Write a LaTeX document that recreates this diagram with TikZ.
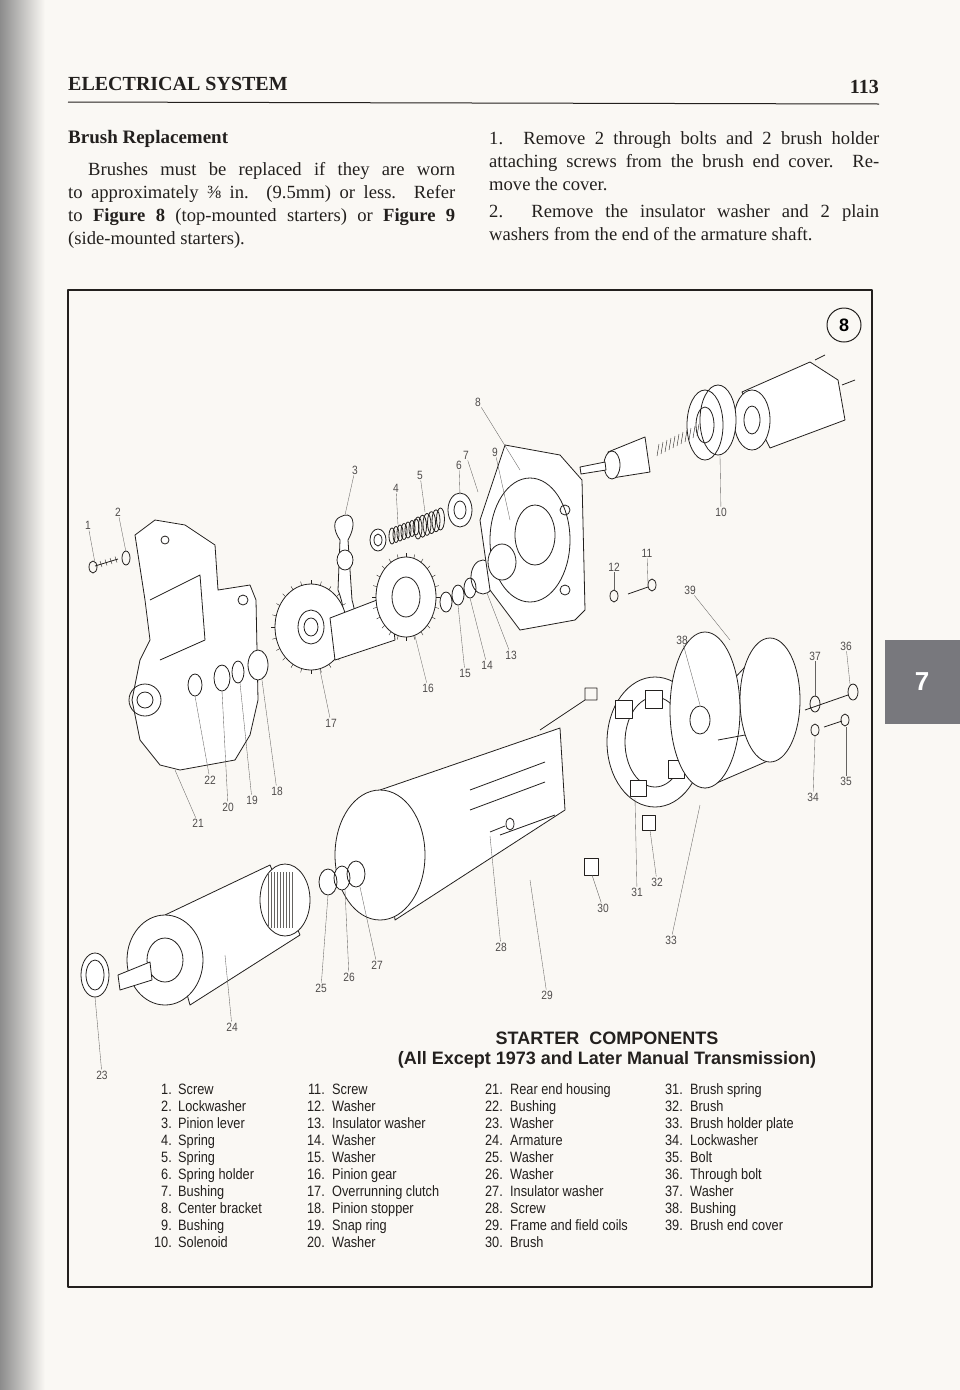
\documentclass[tikz,border=0pt]{standalone}
\usepackage{fontspec}
\setmainfont{Liberation Serif}
\setsansfont{Liberation Sans}[FakeStretch=0.85]
\newfontfamily\capfont{Liberation Sans}
\usetikzlibrary{positioning}
\definecolor{paper}{RGB}{250,248,244}
\definecolor{ink}{RGB}{35,32,30}
\definecolor{tabgray}{RGB}{120,120,125}
\tikzset{partline/.style={draw=ink, line width=0.8pt},
callout/.style={font=\sffamily\fontsize{12}{12}\selectfont, text=ink!80, inner sep=1pt},
leader/.style={draw=ink!70, line width=0.35pt},
legendtext/.style={font=\sffamily\fontsize{15}{15}\selectfont, text=ink, anchor=base west, inner sep=0pt}}

\begin{document}
\begin{tikzpicture}[x=1pt, y=-1pt, line join=round]
    \useasboundingbox (0,0) rectangle (960,1390);
    \fill[paper] (0,0) rectangle (960,1390);
    \shade[left color=black!45, right color=paper] (0,0) rectangle (45,1390);
    \fill[tabgray] (885,640) rectangle (960,724);
    \node[text=white, font=\capfont\bfseries\fontsize{26}{26}\selectfont] (tab) at (922,682) {7};

    % Header
    \node[anchor=base west, font=\bfseries\fontsize{20}{20}\selectfont, text=ink, inner sep=0pt] (head) at (68,90) {ELECTRICAL SYSTEM};
    \node[anchor=base east, font=\bfseries\fontsize{20}{20}\selectfont, text=ink, inner sep=0pt] (page) at (879,93) {113};
    \draw[ink, line width=1pt] (68,102) -- (879,104);

    % Text columns
    \node[anchor=base west, font=\bfseries\fontsize{19}{19}\selectfont, text=ink, inner sep=0pt] (brush) at (68,143) {Brush Replacement};
    \node[anchor=north west, text width=387pt, align=justify, inner sep=0pt, text=ink,
          font=\fontsize{18.6}{23}\selectfont] (lefttext) at (68,162)
          {\hspace*{20pt}Brushes must be replaced if they are worn\linebreak to approximately ⅜ in. (9.5mm) or less. Refer\linebreak to \textbf{Figure 8} (top-mounted starters) or \textbf{Figure 9}\linebreak (side-mounted starters).};
    \node[anchor=north west, text width=390pt, align=justify, inner sep=0pt, text=ink,
          font=\fontsize{18.6}{23}\selectfont] (righttext) at (489,131)
          {1. Remove 2 through bolts and 2 brush holder\linebreak attaching screws from the brush end cover. Re-\linebreak move the cover.\par\vspace{4pt}
           2. Remove the insulator washer and 2 plain\linebreak washers from the end of the armature shaft.};

    % Figure frame
    \draw[ink, line width=1.2pt] (68,290) rectangle (872,1287);
    \node[circle, draw=ink, line width=1pt, minimum size=34pt, inner sep=0pt,
          font=\capfont\bfseries\fontsize{18}{18}\selectfont] (fignum) at (844,325) {8};

    % Rear end housing
    \draw[partline, fill=white] (135,535) -- (155,520) -- (185,525) -- (215,545) -- (218,590) -- (250,585) -- (256,600)
        -- (258,700) -- (250,735) -- (235,760) -- (180,770) -- (160,765) -- (140,740) -- (132,700) -- (140,660) -- (150,640) -- (145,600) -- cycle;
    \draw[partline] (145,700) circle (16pt) (145,700) circle (8pt) (165,540) circle (4pt) (243,600) circle (5pt)
        (150,600) -- (200,575) -- (205,640) -- (160,660);
    \draw[partline] (95,566) -- (118,559) (93,567) ellipse (4pt and 6pt) (126,558) ellipse (4pt and 7pt);
    \foreach \i in {0,...,3} {\draw[ink] (100+5*\i,561-1.5*\i) -- (102+5*\i,567-1.5*\i);}
    \draw[partline, fill=white] (195,685) ellipse (7pt and 11pt) (222,678) ellipse (8pt and 13pt)
        (238,672) ellipse (6pt and 11pt) (258,665) ellipse (10pt and 15pt);

    % Pinion lever, gears
    \draw[partline, fill=white] (340,517) .. controls (352,510) and (358,522) .. (348,540) -- (352,600)
        .. controls (358,620) and (356,640) .. (345,645) -- (340,640) .. controls (346,620) and (344,605) .. (338,590) -- (340,540) .. controls (333,530) and (333,520) .. cycle;
    \draw[partline, fill=white] (345,560) ellipse (8pt and 10pt);
    \draw[partline, fill=white] (311,627) ellipse (36pt and 43pt);
    \foreach \a in {0,15,...,345} {\draw[ink] (311,627) ++(\a:36pt and 43pt) -- ++(\a:4pt);}
    \draw[partline] (311,627) ellipse (13pt and 17pt) (311,627) ellipse (7pt and 9pt);
    \draw[partline, fill=white] (330,618) -- (390,595) -- (395,640) -- (335,660) -- cycle;
    \draw[partline, fill=white] (406,597) ellipse (30pt and 40pt);
    \foreach \a in {0,15,...,345} {\draw[ink] (406,597) ++(\a:30pt and 40pt) -- ++(\a:4pt);}
    \draw[partline] (406,597) ellipse (14pt and 20pt);
    \draw[partline, fill=white] (378,540) ellipse (8pt and 11pt) (378,540) ellipse (4pt and 6pt);
    \foreach \i in {0,...,6} {\draw[partline] (392+4*\i,536-1.5*\i) ellipse (3pt and 8pt);}
    \foreach \i in {0,...,5} {\draw[partline] (418+4.5*\i,528-1.8*\i) ellipse (4pt and 11pt);}
    \draw[partline, fill=white] (460,510) ellipse (12pt and 17pt) (460,510) ellipse (6pt and 9pt);
    \draw[partline, fill=white] (483,577) ellipse (12pt and 17pt) (470,588) ellipse (6pt and 10pt)
        (458,595) ellipse (6pt and 10pt) (446,602) ellipse (6pt and 10pt);

    % Center bracket
    \draw[partline, fill=white] (505,445) -- (560,455) -- (582,480) -- (585,610) -- (575,620) -- (520,630) -- (490,590) -- (480,520) -- cycle;
    \draw[partline] (530,540) ellipse (40pt and 62pt) (535,535) ellipse (20pt and 30pt) (565,510) circle (5pt) (565,590) circle (5pt);
    \draw[partline, fill=white] (502,562) ellipse (14pt and 18pt);

    % Solenoid
    \draw[partline, fill=white] (742,392) -- (810,362) -- (838,380) -- (845,420) -- (770,448) -- cycle;
    \draw[partline, fill=white] (752,420) ellipse (18pt and 30pt) (752,420) ellipse (8pt and 14pt);
    \draw[partline] (815,360) -- (825,355) (842,385) -- (855,380);
    \draw[partline, fill=white] (718,420) ellipse (18pt and 35pt) (705,425) ellipse (18pt and 35pt) (705,425) ellipse (9pt and 18pt);
    \foreach \i in {0,...,10} {\draw[ink] (657+4*\i,456-2*\i) -- (659+4*\i,444-2*\i);}
    \draw[partline, fill=white] (608,452) -- (645,437) -- (650,472) -- (612,478) -- cycle;
    \draw[partline, fill=white] (612,465) ellipse (8pt and 14pt);
    \draw[partline, fill=white] (580,467) -- (605,462) -- (606,470) -- (581,474) -- cycle;

    % Screw and washer 11, 12
    \draw[partline] (628,594) -- (648,587) (652,585) ellipse (4pt and 6pt) (614,596) ellipse (4pt and 6pt);

    % Frame and field coils
    \draw[partline, fill=white] (380,790) -- (560,728) -- (565,810) -- (395,920) -- cycle;
    \draw[partline, fill=white] (380,855) ellipse (45pt and 65pt);
    \draw[partline] (470,790) -- (545,762) (470,810) -- (545,782) (500,835) -- (555,815);
    \draw[partline] (490,832) -- (505,826) (510,824) ellipse (4pt and 6pt);
    \draw[partline] (540,730) -- (585,700) (585,700) rectangle (597,688);
    \draw[partline, fill=white] (584,858) rectangle (598,875);

    % Armature and washers
    \draw[partline, fill=white] (165,915) -- (270,865) -- (300,935) -- (190,1005) -- cycle;
    \draw[partline, fill=white] (285,900) ellipse (25pt and 36pt);
    \foreach \i in {0,...,8} {\draw[ink!70] (268+3*\i,872) -- (268+3*\i,928);}
    \draw[partline, fill=white] (165,960) ellipse (38pt and 45pt) (165,960) ellipse (18pt and 22pt);
    \draw[partline, fill=white] (118,975) -- (150,962) -- (152,980) -- (120,990) -- cycle;
    \draw[partline, fill=white] (95,975) ellipse (14pt and 22pt) (95,975) ellipse (9pt and 15pt);
    \draw[partline, fill=white] (328,882) ellipse (9pt and 13pt) (342,878) ellipse (8pt and 12pt) (356,874) ellipse (9pt and 13pt);

    % Brush holder plate, cover, bolts
    \draw[partline, fill=white] (655,742) ellipse (48pt and 65pt) (655,742) ellipse (30pt and 45pt);
    \draw[partline, fill=white] (615,700) rectangle (632,718) (645,690) rectangle (662,708)
        (668,760) rectangle (684,778) (630,780) rectangle (646,796) (642,815) rectangle (655,830);
    \draw[partline, fill=white] (705,710) -- (770,640) -- (770,760) -- (705,788) -- cycle;
    \draw[partline, fill=white] (770,700) ellipse (30pt and 62pt);
    \draw[partline, fill=white] (705,710) ellipse (35pt and 78pt);
    \draw[partline] (718,740) -- (745,735) (700,720) ellipse (10pt and 14pt);
    \draw[partline] (805,710) -- (848,695) (853,692) ellipse (5pt and 8pt) (815,704) ellipse (5pt and 8pt);
    \draw[partline] (815,730) ellipse (4pt and 6pt) (824,727) -- (842,721) (845,720) ellipse (4pt and 6pt);

    % Callouts
    \foreach \n/\lx/\ly/\tx/\ty in {1/88/525/95/563, 2/118/512/126/552, 3/355/470/345/515, 4/396/488/398/525,
        5/420/475/425/512, 6/459/465/460/495, 7/466/455/478/492, 8/478/402/520/470, 9/495/452/510/520,
        10/721/512/720/455, 11/647/553/648/584, 12/614/567/614/590, 13/511/655/487/593, 14/487/665/470/598,
        15/465/673/458/605, 16/428/688/415/636, 17/331/723/320/670, 18/277/791/262/680, 19/252/800/240/683,
        20/228/807/222/691, 21/198/823/175/770, 22/210/780/195/696, 23/102/1075/95/997, 24/232/1027/225/955,
        25/321/988/328/895, 26/349/977/345/890, 27/377/965/360/887, 28/501/947/490/836, 29/547/995/530/880,
        30/603/908/592/875, 31/637/892/635/798, 32/657/882/650/830, 33/671/940/700/805, 34/813/797/815/737,
        35/846/781/846/727, 36/846/646/850/684, 37/815/656/815/696, 38/682/640/700/705, 39/690/590/730/640} {
        \node[callout] (c\n) at (\lx,\ly) {\n};
        \coordinate (t\n) at (\tx,\ty);
        \draw[leader] (c\n) -- (t\n);
    }

    % Caption
    \node[font=\capfont\bfseries\fontsize{18}{18}\selectfont, text=ink] (title) at (607,1038) {STARTER\ \ COMPONENTS};
    \node[font=\capfont\bfseries\fontsize{18}{18}\selectfont, text=ink, below=0pt of title] (subtitle) {(All Except 1973 and Later Manual Transmission)};

    % Legend
    \foreach \i/\txt in {1/Screw, 2/Lockwasher, 3/Pinion lever, 4/Spring, 5/Spring, 6/Spring holder, 7/Bushing, 8/Center bracket, 9/Bushing, 10/Solenoid} {
        \node[legendtext, anchor=base east] (n\i) at (172,1077+17*\i) {\i.};
        \node[legendtext] (l\i) at (178,1077+17*\i) {\txt};
    }
    \foreach \i/\txt in {11/Screw, 12/Washer, 13/Insulator washer, 14/Washer, 15/Washer, 16/Pinion gear, 17/Overrunning clutch, 18/Pinion stopper, 19/Snap ring, 20/Washer} {
        \node[legendtext, anchor=base east] (n\i) at (325,1077+17*\i-170) {\i.};
        \node[legendtext] (l\i) at (332,1077+17*\i-170) {\txt};
    }
    \foreach \i/\txt in {21/Rear end housing, 22/Bushing, 23/Washer, 24/Armature, 25/Washer, 26/Washer, 27/Insulator washer, 28/Screw, 29/Frame and field coils, 30/Brush} {
        \node[legendtext, anchor=base east] (n\i) at (503,1077+17*\i-340) {\i.};
        \node[legendtext] (l\i) at (510,1077+17*\i-340) {\txt};
    }
    \foreach \i/\txt in {31/Brush spring, 32/Brush, 33/Brush holder plate, 34/Lockwasher, 35/Bolt, 36/Through bolt, 37/Washer, 38/Bushing, 39/Brush end cover} {
        \node[legendtext, anchor=base east] (n\i) at (683,1077+17*\i-510) {\i.};
        \node[legendtext] (l\i) at (690,1077+17*\i-510) {\txt};
    }
\end{tikzpicture}
\end{document}
